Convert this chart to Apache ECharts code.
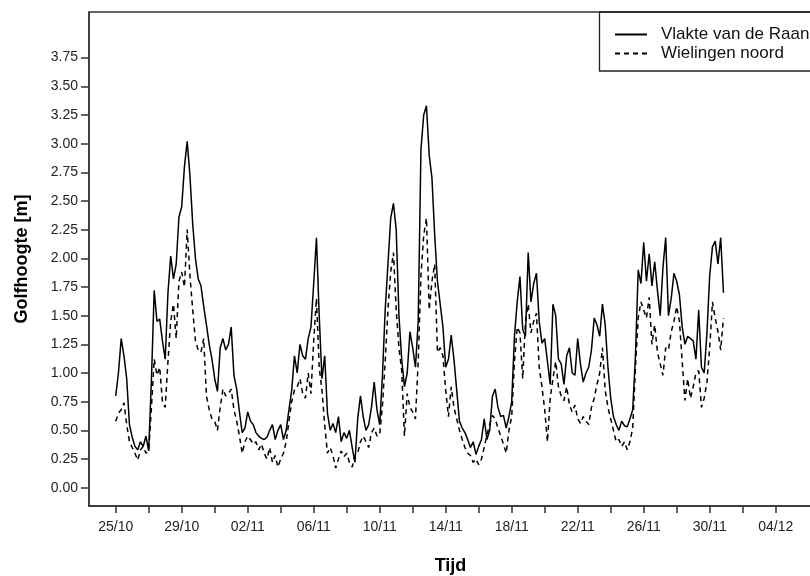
<!DOCTYPE html>
<html><head><meta charset="utf-8">
<script src="https://cdn.jsdelivr.net/npm/echarts@6/dist/echarts.min.js"></script>
<style>html,body{margin:0;padding:0;background:#fff}#c{width:810px;height:576px}</style>
</head><body><div id="c"></div>
<script>
// readings every 4 hours, day 0 = 25/10 00:00
const stepDays = 1 / 6;
const seriesNames = ['Vlakte van de Raan', 'Wielingen noord'];
const vlakteVanDeRaan = [
  0.80,1.00,1.30,1.15,0.95,0.55, 0.44,0.36,0.33,0.40,0.36,0.45, 0.32,0.95,1.72,1.45,1.47,1.28,
  1.12,1.70,2.02,1.82,1.95,2.36, 2.45,2.80,3.02,2.72,2.30,2.00, 1.82,1.76,1.58,1.42,1.25,1.12,
  0.95,0.84,1.22,1.30,1.20,1.25, 1.40,0.98,0.86,0.66,0.48,0.52, 0.66,0.58,0.55,0.48,0.45,0.43,
  0.42,0.44,0.50,0.55,0.42,0.50, 0.55,0.42,0.50,0.68,0.85,1.15, 1.00,1.25,1.15,1.12,1.30,1.40,
  1.78,2.18,1.50,0.95,1.15,0.65, 0.50,0.56,0.48,0.62,0.40,0.48, 0.43,0.50,0.35,0.22,0.60,0.80,
  0.62,0.50,0.55,0.70,0.92,0.68, 0.55,0.98,1.55,1.95,2.35,2.48, 2.25,1.50,1.12,0.88,1.00,1.36,
  1.22,1.05,1.45,2.95,3.25,3.33, 2.90,2.70,2.20,1.80,1.60,1.40, 1.05,1.12,1.33,1.12,0.85,0.58,
  0.52,0.48,0.42,0.35,0.40,0.29, 0.36,0.42,0.60,0.42,0.50,0.80, 0.86,0.70,0.62,0.63,0.52,0.62,
  0.75,1.32,1.62,1.84,1.38,1.32, 2.05,1.62,1.78,1.87,1.45,1.26, 1.30,1.10,0.90,1.60,1.50,1.12,
  1.08,0.90,1.15,1.22,1.00,0.98, 1.30,1.08,0.92,1.00,1.05,1.20, 1.48,1.42,1.32,1.60,1.42,1.05,
  0.78,0.62,0.55,0.50,0.58,0.54, 0.53,0.60,0.68,1.15,1.90,1.78, 2.14,1.80,2.04,1.76,1.97,1.72,
  1.50,1.92,2.18,1.50,1.65,1.87, 1.80,1.68,1.40,1.25,1.32,1.30, 1.28,1.12,1.55,1.05,1.00,1.35,
  1.85,2.10,2.15,1.95,2.18,1.70
];
const wielingenNoord = [
  0.58,0.65,0.68,0.74,0.55,0.40, 0.35,0.30,0.24,0.33,0.36,0.30, 0.32,0.70,1.12,0.98,1.05,0.75,
  0.70,1.10,1.45,1.60,1.30,1.80, 1.88,1.75,2.25,1.85,1.55,1.28, 1.20,1.18,1.30,0.80,0.68,0.60,
  0.58,0.50,0.70,0.86,0.80,0.82, 0.86,0.68,0.58,0.45,0.30,0.40, 0.45,0.42,0.38,0.40,0.33,0.38,
  0.30,0.25,0.35,0.22,0.28,0.18, 0.25,0.30,0.40,0.58,0.75,0.85, 0.88,0.95,0.82,0.78,1.00,0.82,
  1.28,1.65,1.05,0.85,0.55,0.30, 0.35,0.28,0.17,0.25,0.32,0.27, 0.30,0.22,0.18,0.28,0.30,0.40,
  0.45,0.40,0.35,0.48,0.52,0.45, 0.46,0.72,1.10,1.55,1.88,2.05, 1.55,1.22,1.02,0.45,0.82,0.70,
  0.66,0.60,1.10,1.85,2.20,2.35, 1.55,1.80,1.95,1.18,1.22,1.15, 0.85,0.62,0.88,0.70,0.60,0.50,
  0.42,0.35,0.30,0.28,0.22,0.25, 0.20,0.25,0.35,0.46,0.55,0.63, 0.60,0.52,0.45,0.38,0.30,0.50,
  0.62,1.10,1.40,1.35,0.95,1.45, 1.60,1.35,1.45,1.52,1.05,0.88, 0.68,0.40,0.78,0.95,1.10,0.88,
  0.80,0.76,0.88,0.72,0.66,0.72, 0.60,0.56,0.62,0.58,0.55,0.70, 0.78,0.90,1.00,1.22,0.85,0.70,
  0.60,0.50,0.40,0.42,0.36,0.40, 0.33,0.40,0.52,1.05,1.48,1.62, 1.55,1.48,1.66,1.25,1.42,1.18,
  1.08,0.98,1.22,1.20,1.36,1.45, 1.58,1.45,1.10,0.76,0.95,0.78, 0.88,1.00,1.02,0.70,0.78,0.92,
  1.22,1.62,1.48,1.36,1.20,1.48
];
const labelDays = [0,4,8,12,16,20,24,28,32,36,40];
const dateLabels = ['25/10','29/10','02/11','06/11','10/11','14/11','18/11','22/11','26/11','30/11','04/12'];
const tickDays = [0,2,4,6,8,10,12,14,16,18,20,22,24,26,28,30,32,34,36,38,40];
const heightTicks = [0,0.25,0.5,0.75,1,1.25,1.5,1.75,2,2.25,2.5,2.75,3,3.25,3.5,3.75];

const toPairs = arr => arr.map((v, i) => [i * stepDays, v]);
const FONT = '"Liberation Sans", Arial, sans-serif';
const AX = '#333';

const chart = echarts.init(document.getElementById('c'), null, {renderer: 'canvas'});
chart.setOption({
  animation: false,
  backgroundColor: '#fff',
  grid: {left: 89, top: 12, width: 723, height: 494, show: true, borderColor: AX, borderWidth: 1.5,
         backgroundColor: 'transparent', containLabel: false, outerBoundsMode: 'none'},
  legend: {
    orient: 'vertical', left: 599.5, top: 12,
    padding: [14, 30, 9, 14.5],
    borderColor: '#222', borderWidth: 1.3,
    itemWidth: 32, itemHeight: 14, itemGap: 2,
    itemStyle: {opacity: 0},
    textStyle: {fontFamily: FONT, fontSize: 17, color: '#111', padding: [0, 0, 0, 9]},
    data: seriesNames
  },
  xAxis: {
    type: 'value', min: -1.618, max: 42.2,
    name: 'Tijd', nameLocation: 'middle', nameGap: 51,
    nameTextStyle: {fontFamily: FONT, fontSize: 18, fontWeight: 'bold', color: '#000'},
    axisLine: {show: true, onZero: false, lineStyle: {color: AX, width: 1.5}},
    axisTick: {show: true, length: 7, lineStyle: {color: AX, width: 1.5}, customValues: tickDays},
    axisLabel: {
      fontFamily: FONT, fontSize: 14, color: '#222', margin: 14,
      customValues: labelDays,
      formatter: v => { const k = labelDays.indexOf(Math.round(v)); return k >= 0 ? dateLabels[k] : ''; }
    },
    splitLine: {show: false}
  },
  yAxis: {
    type: 'value', min: -0.16, max: 4.148,
    name: 'Golfhoogte [m]', nameLocation: 'middle', nameGap: 58, nameRotate: 90,
    nameTextStyle: {fontFamily: FONT, fontSize: 18, fontWeight: 'bold', color: '#000'},
    axisLine: {show: true, onZero: false, lineStyle: {color: AX, width: 1.5}},
    axisTick: {show: true, length: 8, lineStyle: {color: AX, width: 1.5}, customValues: heightTicks},
    axisLabel: {
      fontFamily: FONT, fontSize: 14, color: '#222', margin: 11,
      customValues: heightTicks,
      formatter: v => v.toFixed(2)
    },
    splitLine: {show: false}
  },
  series: [
    {name: seriesNames[0], type: 'line', data: toPairs(vlakteVanDeRaan), showSymbol: false, symbol: 'none',
     lineStyle: {color: '#000', width: 1.5, type: 'solid'}, itemStyle: {color: '#000'}},
    {name: seriesNames[1], type: 'line', data: toPairs(wielingenNoord), showSymbol: false, symbol: 'none',
     lineStyle: {color: '#000', width: 1.5, type: [5, 4]}, itemStyle: {color: '#000'}}
  ]
});
</script>
</body></html>
